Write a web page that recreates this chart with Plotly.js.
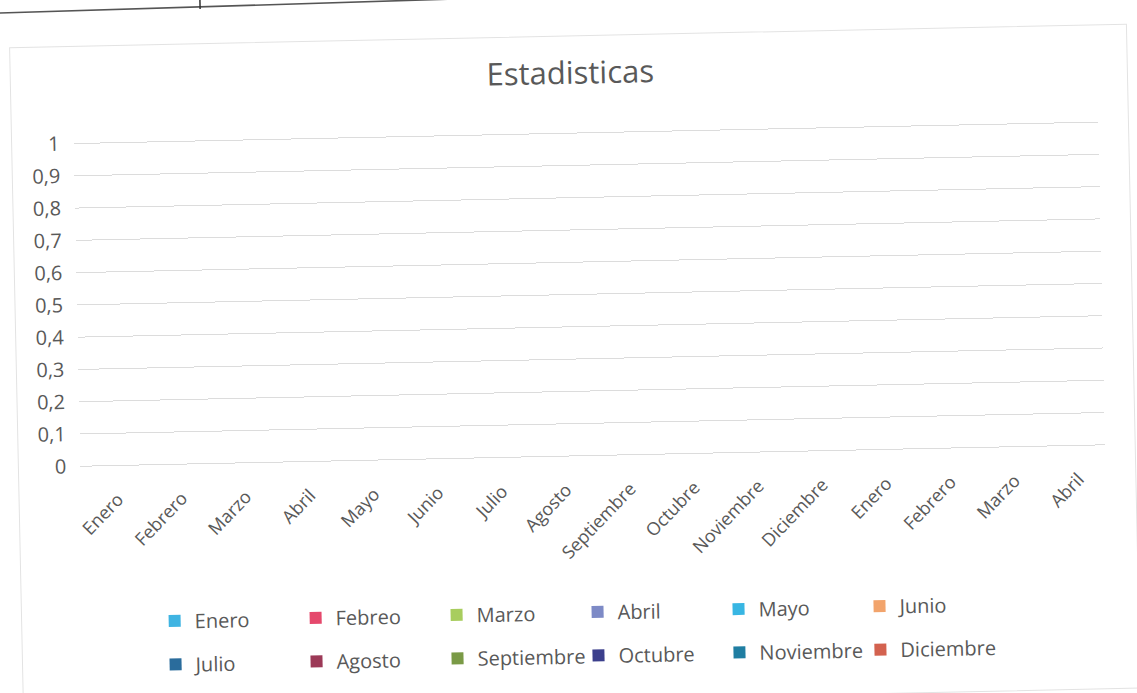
<!DOCTYPE html>
<html>
<head>
<meta charset="utf-8">
<script src="https://cdn.plot.ly/plotly-3.0.1.min.js"></script>
<style>
html,body{margin:0;padding:0;background:#fff;overflow:hidden;width:1137px;height:693px;}
#chart{position:absolute;left:-20px;top:-20px;width:1177px;height:733px;
  transform:rotate(-1.2deg);transform-origin:50% 50%;}
</style>
</head>
<body>
<div id="chart"></div>
<script>
// Category axis labels (x)
const categories = ["Enero","Febrero","Marzo","Abril","Mayo","Junio","Julio","Agosto",
  "Septiembre","Octubre","Noviembre","Diciembre","Enero","Febrero","Marzo","Abril"];
// Series names (legend)
const seriesNames = ["Enero","Febreo","Marzo","Abril","Mayo","Junio",
  "Julio","Agosto","Septiembre","Octubre","Noviembre","Diciembre"];
const seriesColors = ["#3fb4e2","#e5486c","#a8cd5e","#7d8ac6","#38b6e3","#f2a46c",
  "#2a6c9c","#9c3957","#7a9a46","#3b3f8c","#1f7ea2","#d3624f"];
// The chart shows no data: every series is empty
const seriesValues = seriesNames.map(() => categories.map(() => null));
const yTicks = [0,0.1,0.2,0.3,0.4,0.5,0.6,0.7,0.8,0.9,1];

const xIdx = categories.map((_, i) => i);
const traces = seriesNames.map((name, s) => ({
  type: "bar",
  name: name,
  x: xIdx,
  y: seriesValues[s],
  marker: {color: seriesColors[s]},
  legend: s < 6 ? "legend" : "legend2",
  showlegend: true
}));

const FONT = "Open Sans, Liberation Sans, sans-serif";
const legendCommon = {
  orientation: "h",
  xref: "container", yref: "container",
  xanchor: "left", yanchor: "middle",
  entrywidth: 96, entrywidthmode: "pixels",
  itemwidth: 30,
  font: {family: FONT, size: 20, color: "#595959"},
  bgcolor: "rgba(0,0,0,0)",
  traceorder: "normal"
};

const layout = {
  width: 1177, height: 733,
  separators: ",.",
  paper_bgcolor: "#ffffff",
  plot_bgcolor: "#ffffff",
  margin: {l: 98, r: 54, t: 150, b: 257},
  title: {
    text: "Estadisticas",
    font: {family: FONT, size: 31, color: "#595959"},
    x: 0.5064, xanchor: "center", xref: "container",
    y: 0.8731, yanchor: "middle"
  },
  xaxis: {
    range: [-0.5, categories.length - 0.5],
    tickmode: "array",
    tickvals: xIdx,
    ticktext: categories,
    tickangle: -45,
    showgrid: false,
    zeroline: false,
    showline: false,
    ticks: "",
    automargin: false,
    ticklabelstandoff: 19,
    ticklabelshift: 5,
    tickfont: {family: FONT, size: 18, color: "#595959"},
    fixedrange: true
  },
  yaxis: {
    range: [0, 1.01],
    tickmode: "array",
    tickvals: yTicks,
    showgrid: true,
    gridcolor: "#dcdcdc",
    gridwidth: 1,
    zeroline: true,
    zerolinecolor: "#dcdcdc",
    showline: false,
    ticks: "",
    ticklen: 0,
    ticklabelstandoff: 13,
    automargin: false,
    tickfont: {family: FONT, size: 20, color: "#595959"},
    fixedrange: true
  },
  legend: Object.assign({}, legendCommon, {x: 0.1436, y: 0.1371}),
  legend2: Object.assign({}, legendCommon, {x: 0.1436, y: 0.0778}),
  showlegend: true,
  shapes: [
    {type: "rect", xref: "paper", yref: "paper",
     x0: -0.0605, x1: 1.0293, y0: -0.7485, y1: 1.2883,
     line: {color: "#e3e3e3", width: 1}, fillcolor: "rgba(0,0,0,0)", layer: "below"},
    {type: "line", xref: "paper", yref: "paper",
     x0: -0.0956, x1: 0.509, y0: 1.3942, y1: 1.4132,
     line: {color: "#555555", width: 1.6}},
    {type: "line", xref: "paper", yref: "paper",
     x0: 0.1261, x1: 0.1261, y0: 1.3948, y1: 1.4377,
     line: {color: "#333333", width: 1.5}}
  ]
};

Plotly.newPlot("chart", traces, layout, {displayModeBar: false, staticPlot: true});
</script>
</body>
</html>
